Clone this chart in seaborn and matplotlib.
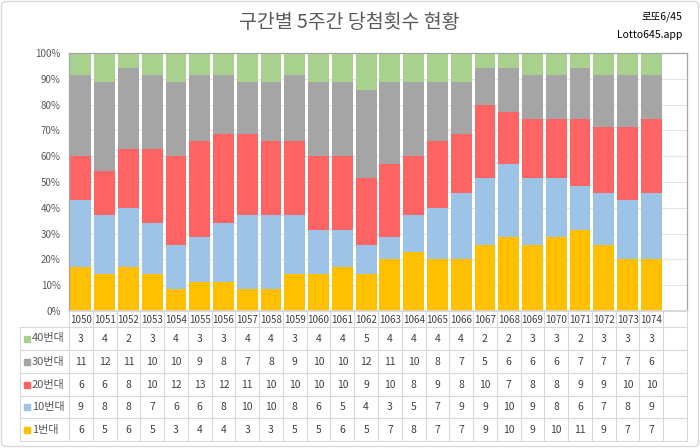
import matplotlib
matplotlib.use("Agg")
import matplotlib.pyplot as plt
from matplotlib.lines import Line2D
from matplotlib.patches import FancyBboxPatch, Rectangle
import seaborn as sns
import pandas as pd
import numpy as np

draws = [str(d) for d in range(1050, 1075)]
s40 = [3, 4, 2, 3, 4, 3, 3, 4, 4, 3, 4, 4, 5, 4, 4, 4, 4, 2, 2, 3, 3, 2, 3, 3, 3]
s30 = [11, 12, 11, 10, 10, 9, 8, 7, 8, 9, 10, 10, 12, 11, 10, 8, 7, 5, 6, 6, 6, 7, 7, 7, 6]
s20 = [6, 6, 8, 10, 12, 13, 12, 11, 10, 10, 10, 10, 9, 10, 8, 9, 8, 10, 7, 8, 8, 9, 9, 10, 10]
s10 = [9, 8, 8, 7, 6, 6, 8, 10, 10, 8, 6, 5, 4, 3, 5, 7, 9, 9, 10, 9, 8, 6, 7, 8, 9]
s1 = [6, 5, 6, 5, 3, 4, 4, 3, 3, 5, 5, 6, 5, 7, 8, 7, 7, 9, 10, 9, 10, 11, 9, 7, 7]

series_names = ["1번대", "10번대", "20번대", "30번대", "40번대"]
series_vals = [s1, s10, s20, s30, s40]
colors = ["#FFC000", "#9DC3E6", "#FF6464", "#A5A5A5", "#A9D18E"]

title = "구간별 5주간 당첨횟수 현황"

sns.set_theme(style="white")
plt.rcParams["font.family"] = ["Noto Sans CJK KR", "DejaVu Sans"]

W, H = 700, 448
fig = plt.figure(figsize=(7, 4.48), dpi=100)

def fx(x):
    return x / W

def fy(y):
    return 1 - y / H

# plot area
L, R, T, B = 69, 687, 53, 311
ax = fig.add_axes([fx(L), fy(B), (R - L) / W, (B - T) / H])

vals = np.array(series_vals, dtype=float)
tot = vals.sum(axis=0)
cum = np.cumsum(vals, axis=0) / tot * 100

df = pd.DataFrame({"draw": draws})
for i in range(len(series_names) - 1, -1, -1):
    df["v"] = cum[i]
    sns.barplot(data=df, x="draw", y="v", color=colors[i], saturation=1,
                width=0.88, linewidth=0, ax=ax, order=draws)

nslots = len(draws) + 1
ax.set_xlim(-0.5, nslots - 0.5)
ax.set_ylim(0, 100)
ax.set_yticks(range(0, 101, 10))
ax.set_yticklabels([f"{v}%" for v in range(0, 101, 10)], fontsize=7, color="#595959",
                   family=["Noto Sans CJK KR", "DejaVu Sans"])
ax.tick_params(axis="y", length=0, pad=6)
ax.set_xticks([])
ax.set_xlabel("")
ax.set_ylabel("")
ax.yaxis.grid(True, color="#E4E4E4", linewidth=0.8)
ax.set_axisbelow(True)
for sp in ["left", "top", "right"]:
    ax.spines[sp].set_color("#A6A6A6")
    ax.spines[sp].set_linewidth(0.9)
ax.spines["bottom"].set_color("#D9D9D9")

# title and corner texts
fig.text(fx(349), fy(22), title, ha="center", va="center", fontsize=14, color="#595959")
fig.text(fx(682), fy(17), "로또6/45", ha="right", va="center", fontsize=7.5, color="#000000")
fig.text(fx(682), fy(35), "Lotto645.app", ha="right", va="center", fontsize=7.5, color="#000000")

# data table
slot = (R - L) / nslots
xs = [L + k * slot for k in range(nslots + 1)]
row_y = [311, 327, 350, 373, 396, 418, 441]
lc = "#D9D9D9"

def hline(x0, x1, y):
    fig.add_artist(Line2D([fx(x0), fx(x1)], [fy(y), fy(y)], color=lc, linewidth=0.8))

def vline(x, y0, y1):
    fig.add_artist(Line2D([fx(x), fx(x)], [fy(y0), fy(y1)], color=lc, linewidth=0.8))

hline(L, R, row_y[0])
for y in row_y[1:]:
    hline(20, R, y)
for x in xs:
    vline(x, row_y[0], row_y[-1])
vline(20, row_y[1], row_y[-1])

# header row
for k, d in enumerate(draws):
    fig.text(fx((xs[k] + xs[k + 1]) / 2), fy((row_y[0] + row_y[1]) / 2 + 1), d,
             ha="center", va="center", fontsize=7, color="#404040")

# body rows: 40, 30, 20, 10, 1 from top
table_order = [4, 3, 2, 1, 0]
for r, si in enumerate(table_order):
    yc = (row_y[r + 1] + row_y[r + 2]) / 2
    fig.add_artist(Rectangle((fx(24), fy(yc + 3)), 6 / W, 6 / H, color=colors[si],
                             transform=fig.transFigure))
    fig.text(fx(32), fy(yc), series_names[si], ha="left", va="center", fontsize=8, color="#595959")
    for k, v in enumerate(series_vals[si]):
        fig.text(fx((xs[k] + xs[k + 1]) / 2), fy(yc), str(v), ha="center", va="center",
                 fontsize=7.5, color="#404040")

# outer rounded border
fig.add_artist(FancyBboxPatch((fx(1.5), fy(446.5)), (W - 3) / W, (H - 3) / H,
                              boxstyle="round,pad=0,rounding_size=0.008",
                              transform=fig.transFigure, facecolor="none",
                              edgecolor="#D9D9D9", linewidth=1))

fig.savefig("out.png", dpi=100)
